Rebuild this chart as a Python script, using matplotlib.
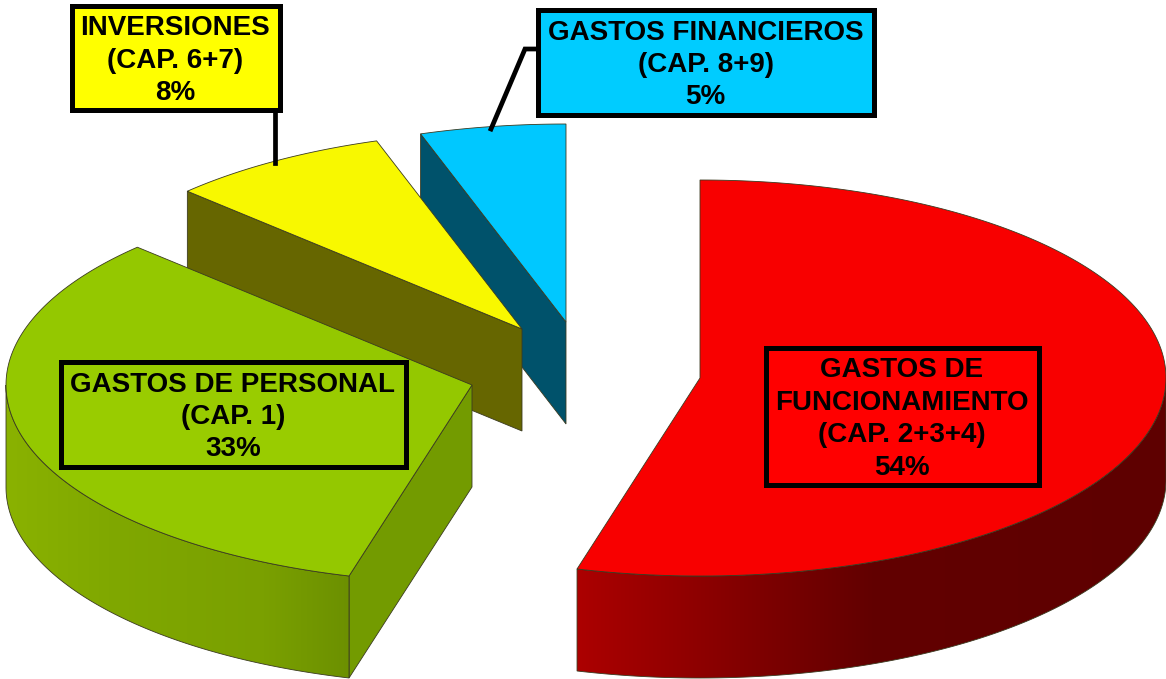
"""3D exploded pie: distribucion del gasto por capitulos."""

import numpy as np
import matplotlib
matplotlib.use("Agg")
import matplotlib.pyplot as plt
from matplotlib.patches import Polygon, Rectangle

# data (clockwise from 12 o'clock), slice sizes
labels = ["GASTOS DE\nFUNCIONAMIENTO\n(CAP. 2+3+4)",
          "GASTOS DE PERSONAL\n(CAP. 1)",
          "INVERSIONES\n(CAP. 6+7)",
          "GASTOS FINANCIEROS\n(CAP. 8+9)"]
shares = [54.25, 33.0, 7.7, 5.05]

# layout, in pixels of the 1166x679 picture
RX, RY, DEPTH = 466, 198, 102
apexes = [(700, 378), (472, 385), (522, 329), (566, 322)]
boxes = [(763, 345, 1041, 487), (58, 359, 408, 469),
         (69, 3, 282, 112), (535, 7, 876, 117)]
top_colors = ["#f80000", "#94c800", "#f8f800", "#00c8ff"]
box_colors = ["#ff0000", "#99cc00", "#ffff00", "#00ccff"]
cut_colors = [None, "#739b00", "#666600", "#00526b"]
# side shading: (x fraction along the visible rim, rgb)
side_stops = [
    [(0.0, (172, 0, 0)), (0.5, (98, 0, 0)), (1.0, (94, 0, 0))],
    [(0.0, (138, 178, 0)), (0.3, (128, 168, 0)), (0.75, (122, 160, 0)), (1.0, (108, 144, 0))],
    None,
    None,
]
leaders = [[(275, 110), (275, 163)], [(537, 49), (525, 49), (491, 129)]]


def rim(apex, t):
    return apex[0] + RX * np.sin(t), apex[1] - RY * np.cos(t)


fig = plt.figure(figsize=(11.66, 6.79), dpi=100)
ax = fig.add_axes([0, 0, 1, 1])
ax.set_xlim(0, 1166)
ax.set_ylim(679, 0)
ax.axis("off")

edges = np.radians(np.concatenate([[0], np.cumsum(shares)]) * 3.6)
EDGE = "#3a3a20"

# paint back to front: blue, yellow, green, red
for i in [3, 2, 1, 0]:
    apex = apexes[i]
    t0, t1 = edges[i], edges[i + 1]
    z = i * -3 + 10

    # radial cut face, only where it looks at the viewer
    if cut_colors[i] is not None:
        x, y = rim(apex, t0)
        ax.add_patch(Polygon(
            [apex, (x, y), (x, y + DEPTH), (apex[0], apex[1] + DEPTH)],
            facecolor=cut_colors[i], edgecolor=EDGE, linewidth=0.6, zorder=z))

    # outer wall, front half of the ellipse only
    lo, hi = max(t0, np.pi / 2), min(t1, 3 * np.pi / 2)
    if hi > lo and side_stops[i] is not None:
        ts = np.linspace(lo, hi, 200)
        xs, ys = rim(apex, ts)
        wall = np.vstack([np.column_stack([xs, ys]),
                          np.column_stack([xs[::-1], ys[::-1] + DEPTH])])
        stops = side_stops[i]
        frac = np.linspace(0, 1, 512)
        rgb = np.column_stack([
            np.interp(frac, [s[0] for s in stops], [s[1][c] for s in stops])
            for c in range(3)]) / 255
        outline = Polygon(wall, facecolor="none", edgecolor=EDGE, linewidth=0.6, zorder=z + 0.1)
        ax.add_patch(outline)
        im = ax.imshow(rgb[np.newaxis, :, :], aspect="auto", interpolation="bilinear",
                       extent=(xs.min(), xs.max(), ys.max() + DEPTH, ys.min()), zorder=z)
        im.set_clip_path(outline)
        ax.set_xlim(0, 1166)
        ax.set_ylim(679, 0)

    # top face
    ts = np.linspace(t0, t1, 200)
    xs, ys = rim(apex, ts)
    ax.add_patch(Polygon(
        np.vstack([[apex], np.column_stack([xs, ys])]),
        facecolor=top_colors[i], edgecolor=EDGE, linewidth=0.6, zorder=z + 1))

# leader lines
for pts in leaders:
    ax.plot(*zip(*pts), color="black", lw=3.4, solid_joinstyle="miter", zorder=20)

# label boxes
for i, (x0, y0, x1, y1) in enumerate(boxes):
    ax.add_patch(Rectangle(
        (x0 + 2.5, y0 + 2.5), x1 - x0 - 5, y1 - y0 - 5,
        facecolor=box_colors[i], edgecolor="black", linewidth=3.6, zorder=21))
    ax.text((x0 + x1) / 2, (y0 + y1) / 2 + 3, f"{labels[i]}\n{round(shares[i])}%",
            ha="center", va="center", ma="center", family="Liberation Sans",
            fontweight="bold", fontsize=20, linespacing=1.32, color="black", zorder=22)

fig.savefig("out.png", dpi=100, facecolor="white")
